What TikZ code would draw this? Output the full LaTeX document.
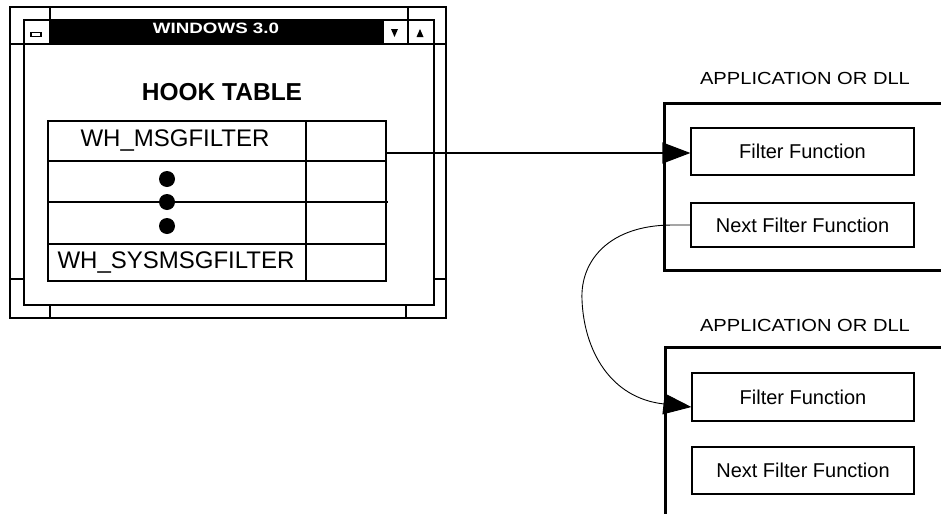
\documentclass[tikz,border=0pt]{standalone}
\usepackage{fontspec}
\setmainfont{Liberation Sans}
\usepackage{graphicx}
\usetikzlibrary{arrows.meta,calc}
\begin{document}
\begin{tikzpicture}[x=1pt,y=-1pt,
  thinln/.style={line width=1.2pt},
  appframe/.style={line width=3pt},
  funcbox/.style={draw,line width=1.2pt,minimum width=223pt,minimum height=47pt,inner sep=0pt,font=\fontsize{20}{24}\selectfont},
  tbltext/.style={anchor=base,inner sep=0pt,font=\fontsize{24}{28}\selectfont},
  applabel/.style={anchor=base,inner sep=0pt,font=\fontsize{17.5}{20}\selectfont},
  arr/.style={line width=1.2pt,-{Triangle[length=28pt,width=21pt]}},
  curvearr/.style={line width=0.9pt,-{Triangle[length=28pt,width=21pt]}}
]
\useasboundingbox (0,0) rectangle (941,514);
% window frame
\draw[thinln] (10,7) rectangle (446,318);
\draw[thinln] (24,20) rectangle (434,305);
\fill (50,20) rectangle (383,44);
\draw[thinln] (10,44) -- (446,44);
\draw[thinln] (50,7) -- (50,44);
\draw[thinln] (408,7) -- (408,44);
\draw[thinln] (383,20) -- (383,44);
\draw[thinln] (10,279) -- (24,279) (434,279) -- (446,279);
\draw[thinln] (50,305) -- (50,318) (406,305) -- (406,318);
\draw[line width=1.6pt,fill=white] (31,32.5) rectangle (41,36.5);
\fill (391,29) -- (398,29) -- (394.5,37) -- cycle;
\fill (416.5,37) -- (423.5,37) -- (420,29) -- cycle;
\node[anchor=base,inner sep=0pt,text=white,font=\bfseries\fontsize{15}{18}\selectfont] (wintitle) at (216,33) {\scalebox{1.25}[1]{WINDOWS 3.0}};
\node[anchor=base,inner sep=0pt,font=\bfseries\fontsize{24.5}{28}\selectfont] (hooktitle) at (222,100) {HOOK TABLE};
% hook table
\node[draw,thinln,minimum width=338pt,minimum height=160pt,inner sep=0pt] (hooktbl) at (217,201) {};
\draw[thinln] (306,121) -- (306,281);
\draw[thinln] (48,161) -- (386,161);
\draw[thinln] (48,202) -- (388,202);
\draw[thinln] (48,244) -- (386,244);
\node[tbltext] (msgf) at (175,146) {WH\_MSGFILTER};
\node[tbltext] (sysmsgf) at (176,268) {WH\_SYSMSGFILTER};
\fill (167,179) circle[radius=8pt];
\fill (167,202) circle[radius=8pt];
\fill (167,226) circle[radius=8pt];
\coordinate (hookout) at (386,153);
% application 1
\node[applabel] (app1) at (805,84) {\scalebox{1.15}[1]{APPLICATION OR DLL}};
\draw[appframe] (941,103) -- (664,103) -- (664,270) -- (941,270);
\node[funcbox] (ff1) at (802.5,151.5) {Filter Function};
\node[funcbox,minimum height=44pt] (nff1) at (802.5,225) {Next Filter Function};
% application 2
\node[applabel] (app2) at (805,331) {\scalebox{1.15}[1]{APPLICATION OR DLL}};
\draw[appframe] (941,347) -- (665,347) -- (665,514);
\node[funcbox,minimum width=222pt,minimum height=48pt] (ff2) at (803,397) {Filter Function};
\node[funcbox,minimum width=222pt] (nff2) at (803,470.5) {Next Filter Function};
% connectors
\draw[arr] (hookout) -- (hookout -| ff1.west);
\draw[curvearr] (nff1.west) -- ++(-18,0) .. controls (610,225) and (580,260) .. (582,300) .. controls (584,350) and (610,398) .. ($(ff2.west)+(0,10)$);
\end{tikzpicture}
\end{document}
